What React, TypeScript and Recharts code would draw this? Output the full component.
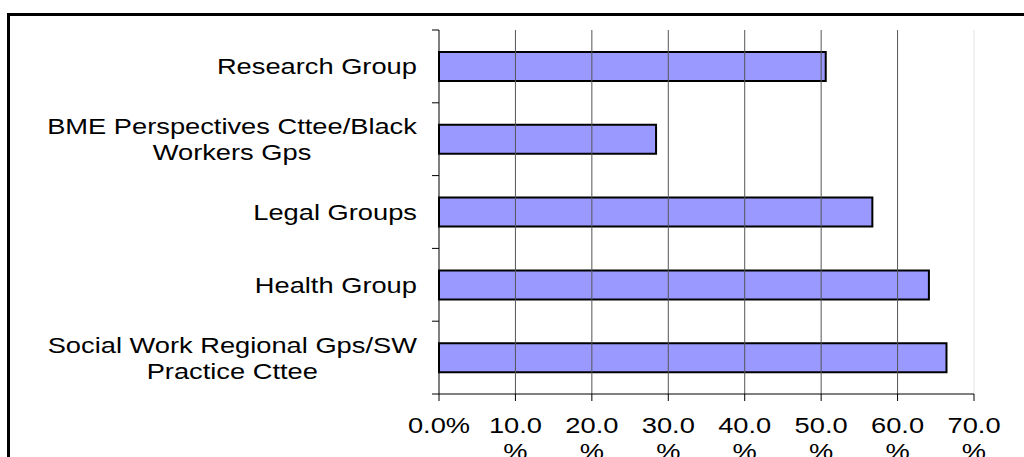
import React from "react";
import { BarChart, Bar, XAxis, YAxis, ReferenceLine } from "recharts";

const categories = [
  "Research Group",
  "BME Perspectives Cttee/Black Workers Gps",
  "Legal Groups",
  "Health Group",
  "Social Work Regional Gps/SW Practice Cttee",
];
const shares = [50.6, 28.4, 56.7, 64.1, 66.4];
const xTicks = [0, 10, 20, 30, 40, 50, 60, 70];

const data = categories.map((name, i) => ({ name, value: shares[i] }));

const CHART_W = 1024;
const CHART_H = 457;
const MARGIN = { top: 30, right: 50, bottom: 0, left: 0 };
const AXIS_W = 439;
const AXIS_H = 63;
const BAND = (CHART_H - MARGIN.top - AXIS_H) / categories.length;

const FONT = "'Liberation Sans', Arial, sans-serif";
const FONT_SIZE = 22;
const STRETCH = 1.24; // labels are drawn a bit wider than the font's natural width
const LINE_GAP = 26;

let ctx: CanvasRenderingContext2D | null = null;
const textWidth = (s: string) => {
  if (!ctx) ctx = document.createElement("canvas").getContext("2d");
  if (!ctx) return s.length * FONT_SIZE * 0.6 * STRETCH;
  ctx.font = `${FONT_SIZE}px ${FONT}`;
  return ctx.measureText(s).width * STRETCH;
};

// word wrap like the spreadsheet does for long category names
const wrap = (s: string, max: number) => {
  const words = s.split(" ");
  const lines: string[] = [];
  let cur = "";
  for (const w of words) {
    const next = cur ? cur + " " + w : w;
    if (cur && textWidth(next) > max) {
      lines.push(cur);
      cur = w;
    } else cur = next;
  }
  if (cur) lines.push(cur);
  return lines;
};

const StretchText = ({ x, y, text }: { x: number; y: number; text: string }) => (
  <g transform={`translate(${x},${y}) scale(${STRETCH},1)`}>
    <text x={0} y={0} textAnchor="middle" fontFamily={FONT} fontSize={FONT_SIZE} fill="#000">
      {text}
    </text>
  </g>
);

const CategoryTick = (props: any) => {
  const { x, y, payload, index } = props;
  const lines = wrap(String(payload.value), 400);
  const maxW = Math.max(...lines.map(textWidth));
  const cx = x - 22 - maxW / 2;
  const first = y + 8 - ((lines.length - 1) * LINE_GAP) / 2;
  return (
    <g>
      <line x1={x - 7} x2={x} y1={y - BAND / 2} y2={y - BAND / 2} stroke="#000" />
      {index === categories.length - 1 && (
        <line x1={x - 7} x2={x} y1={y + BAND / 2} y2={y + BAND / 2} stroke="#000" />
      )}
      {lines.map((l, i) => (
        <StretchText key={i} x={cx} y={first + i * LINE_GAP} text={l} />
      ))}
    </g>
  );
};

const PercentTick = (props: any) => {
  const { x, y, payload } = props;
  const label = `${Number(payload.value).toFixed(1)}%`;
  const lines = textWidth(label) > 70 ? [label.slice(0, -1), "%"] : [label];
  return (
    <g>
      <line x1={x} x2={x} y1={y} y2={y + 7} stroke="#000" />
      {lines.map((l, i) => (
        <StretchText key={i} x={x} y={y + 39 + i * LINE_GAP} text={l} />
      ))}
    </g>
  );
};

const App = () => {
  return (
    <div style={{ position: "fixed", inset: 0, overflow: "hidden", background: "#fff" }}>
      <div
        style={{
          position: "absolute",
          left: 7,
          top: 13,
          width: 1100,
          height: 520,
          border: "3px solid #000",
          boxSizing: "border-box",
        }}
      />
      <div style={{ position: "absolute", left: 0, top: 0 }}>
        <BarChart width={CHART_W} height={CHART_H} data={data} layout="vertical" margin={MARGIN}>
          {xTicks.slice(1).map((v) => (
            <ReferenceLine
              key={v}
              x={v}
              stroke={v === 70 ? "#e4e4e4" : "#555"}
              strokeWidth={1}
            />
          ))}
          <XAxis
            type="number"
            domain={[0, 70]}
            ticks={xTicks}
            interval={0}
            axisLine={{ stroke: "#000" }}
            tickLine={false}
            tickSize={0}
            tickMargin={0}
            height={AXIS_H}
            tick={<PercentTick />}
          />
          <YAxis
            type="category"
            dataKey="name"
            width={AXIS_W}
            interval={0}
            axisLine={{ stroke: "#000" }}
            tickLine={false}
            tickSize={0}
            tickMargin={0}
            tick={<CategoryTick />}
          />
          <Bar
            dataKey="value"
            fill="#9999FF"
            stroke="#000"
            strokeWidth={2}
            barSize={29}
            isAnimationActive={false}
          />
        </BarChart>
      </div>
    </div>
  );
};

export default App;
